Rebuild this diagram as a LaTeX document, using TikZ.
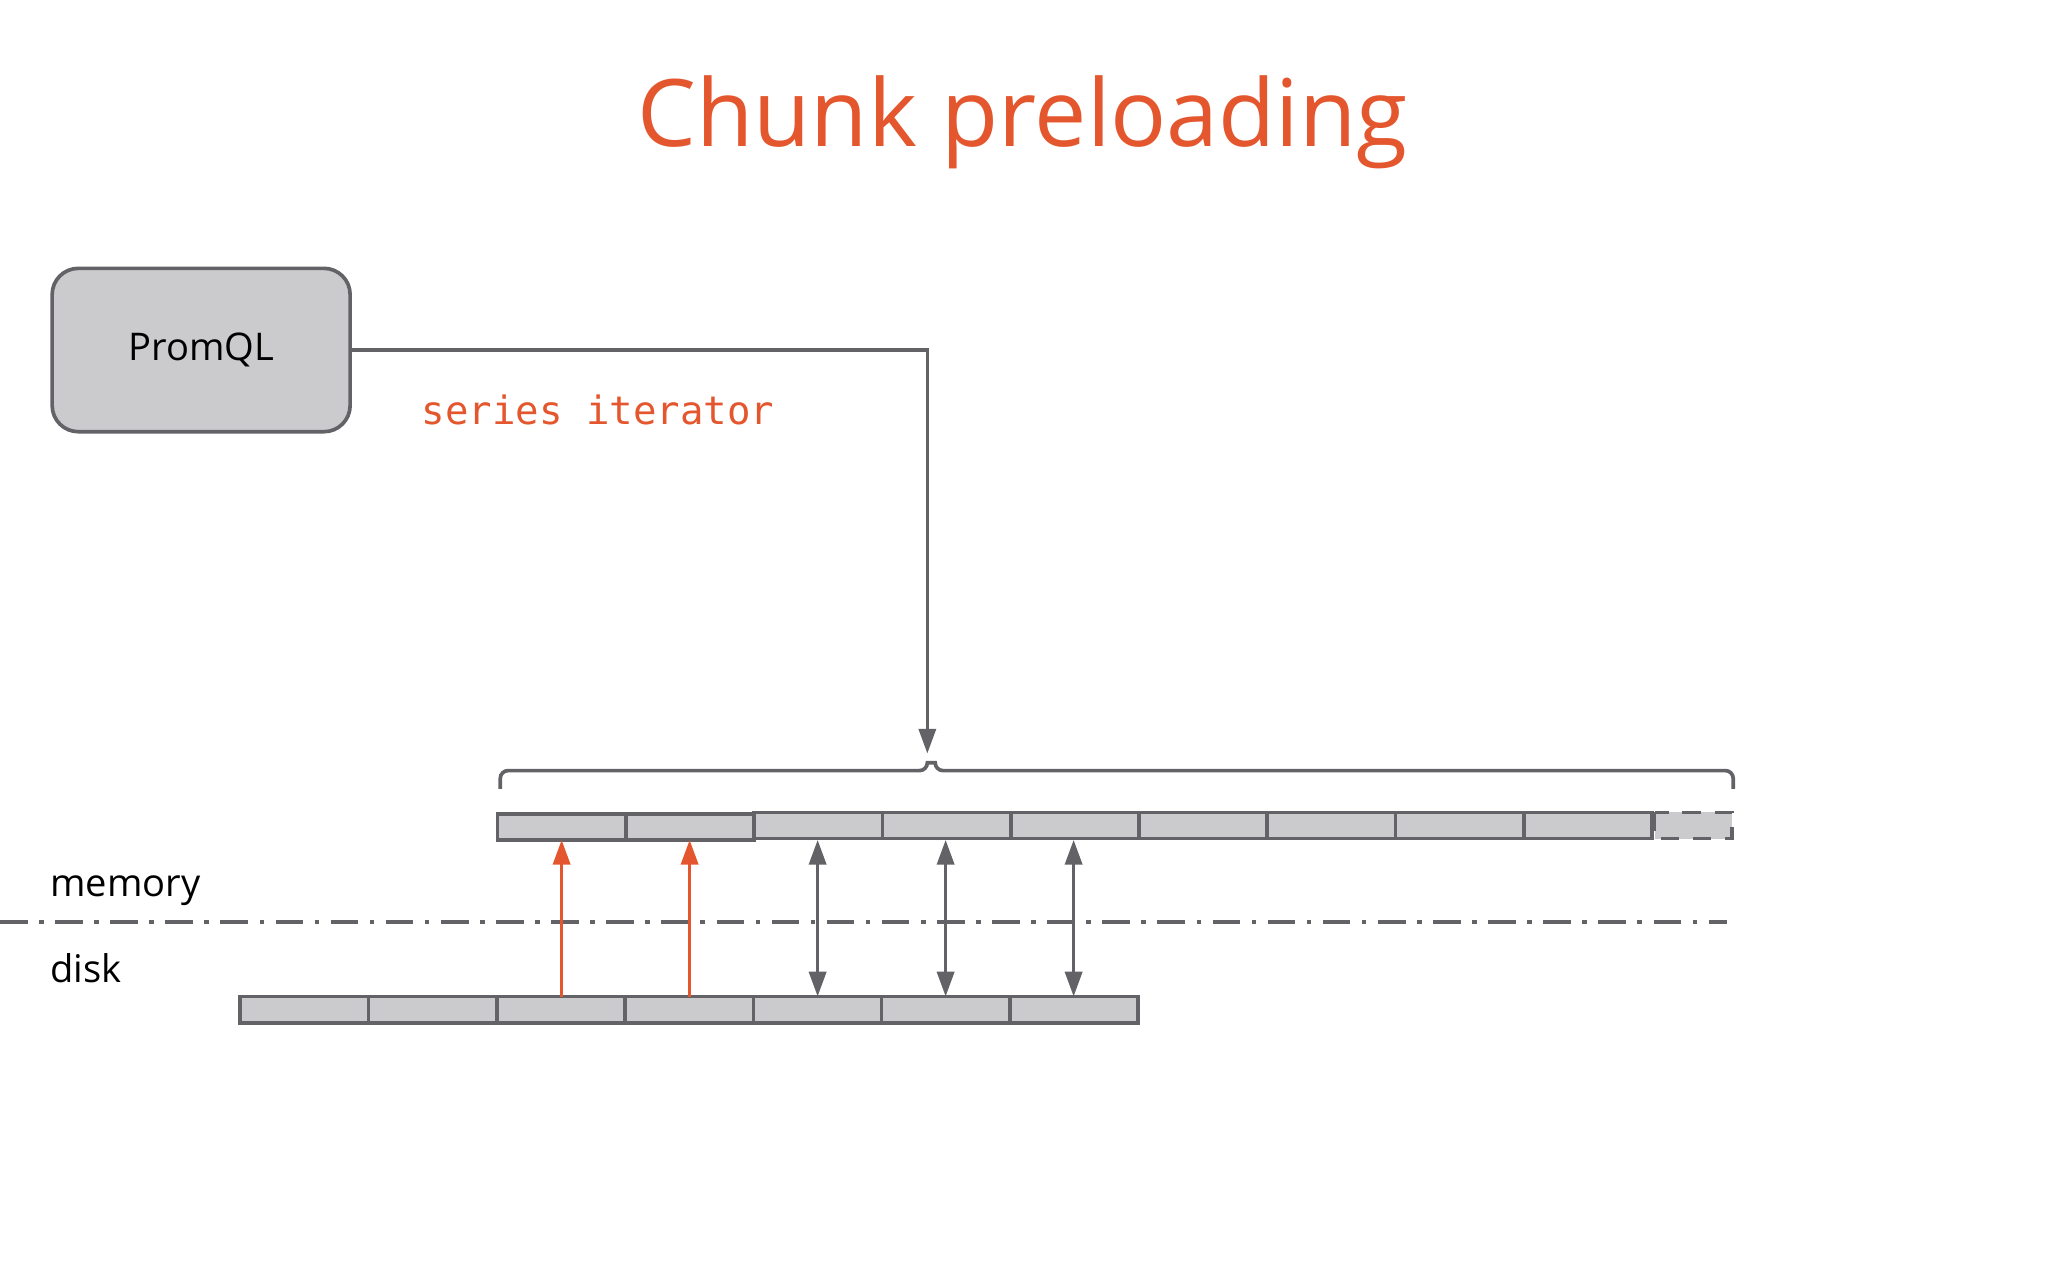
\documentclass[tikz,border=0pt]{standalone}
\usepackage{fontspec}
\setmainfont{Open Sans}
\setmonofont{DejaVu Sans Mono}
\usetikzlibrary{arrows.meta}
\definecolor{accent}{HTML}{E4572E}
\definecolor{edge}{HTML}{636266}
\definecolor{cell}{HTML}{CBCACC}

\begin{document}
\begin{tikzpicture}[x=0.01cm,y=-0.01cm,
    chunk/.style={draw=edge,fill=cell,line width=0.8pt},
    link/.style={draw=edge,line width=0.8pt},
    >={Triangle[length=1.9mm,width=1.3mm]},
    every node/.style={font=\fontsize{8.3}{10}\selectfont}
]
\useasboundingbox (0,0) rectangle (1568,980);

% title
\node[text=accent,font=\fontsize{20.3}{24}\selectfont] (title) at (783,94) {Chunk preloading};

% query engine
\node[chunk,rounded corners=0.2cm,minimum width=2.28cm,minimum height=1.25cm] (promql) at (154,268) {\raisebox{-2pt}{PromQL}};
\coordinate (turn) at (710,268);
\coordinate (tip) at (710,577);
\draw[link,->,edge] (promql.east) -- (turn) -- (tip);
\node[text=accent,font=\ttfamily\fontsize{8.5}{10}\selectfont] (iter) at (458,314) {series iterator};

% brace over the memory chunks
\draw[link] (383,604) -- (383,596) arc[start angle=180,end angle=270,radius=6] -- (704,590)
  arc[start angle=90,end angle=0,radius=6] -- (716,584) arc[start angle=180,end angle=90,radius=6]
  -- (1321,590) arc[start angle=-90,end angle=0,radius=6] -- (1327,604);

% memory chunks
\foreach \i in {0,1}
  \draw[chunk] ({381+98.2*\i},623) rectangle ({479.2+98.2*\i},643);
\foreach \i in {0,...,6}
  \draw[chunk] ({577.4+98.2*\i},622) rectangle ({675.6+98.2*\i},642);
\draw[chunk,dash pattern=on 4pt off 3pt] (1266.8,622) rectangle (1326,642);

% memory / disk boundary
\draw[edge,line width=0.8pt,dash pattern=on 6pt off 2.5pt on 1pt off 2.5pt] (0,706) -- (1322,706);
\node[anchor=west] (mem) at (26,682) {memory};
\node[anchor=west] (disk) at (26,741) {disk};

% disk chunks
\foreach \i in {0,...,6}
  \draw[chunk] ({184+98.2*\i},763) rectangle ({282.2+98.2*\i},783);

% loading
\foreach \x in {430,528}
  \draw[accent,line width=0.8pt,->] (\x,763) -- (\x,643);
\foreach \x in {626,724,822}
  \draw[link,<->,edge] (\x,643) -- (\x,763);
\end{tikzpicture}
\end{document}
